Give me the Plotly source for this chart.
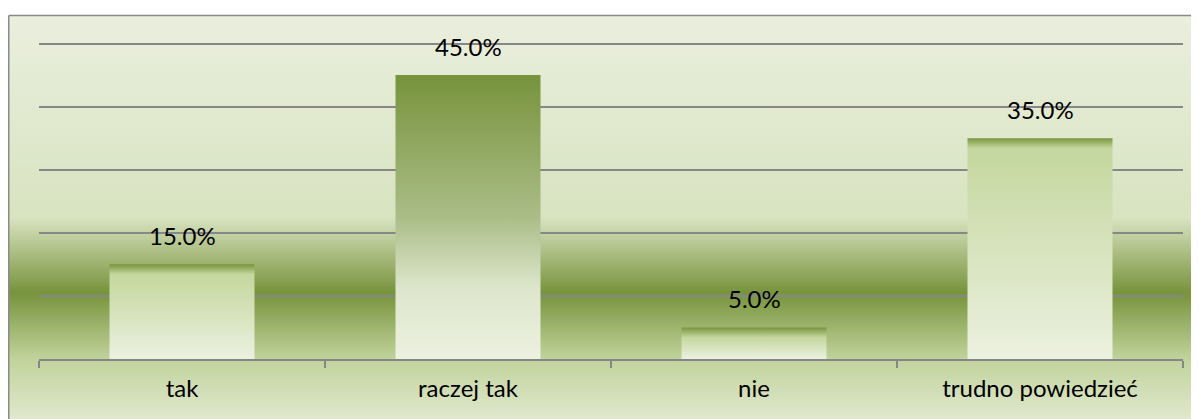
import plotly.graph_objects as go

categories = ["tak", "raczej tak", "nie", "trudno powiedzieć"]
values = [15.0, 45.0, 5.0, 35.0]
y_max = 50.4
grid_vals = [10, 20, 30, 40, 50]

# layout in pixels (figure coordinates; page body adds an 8px offset)
W, H = 1199, 419
PX_PER_UNIT = 6.31
PLOT_LEFT, PLOT_RIGHT, PLOT_BOTTOM = 31, 1175, 351
PH = PX_PER_UNIT * y_max
ML, MR, MB = PLOT_LEFT, W - PLOT_RIGHT, H - PLOT_BOTTOM
MT = H - MB - PH
PW = PLOT_RIGHT - PLOT_LEFT
BOX_LEFT, BOX_TOP = 0.75, 7.5
BAR_W = 0.507
FONT = "Lato"
FS = 24

bg_svg = (
    "data:image/svg+xml;utf8,"
    "<svg xmlns='http://www.w3.org/2000/svg' width='100' height='100' preserveAspectRatio='none'>"
    "<defs><linearGradient id='g' x1='0' y1='0' x2='0' y2='1'>"
    "<stop offset='0' stop-color='%23eaefde'/>"
    "<stop offset='0.48' stop-color='%23d8e3c0'/>"
    "<stop offset='0.658' stop-color='%2377933c'/>"
    "<stop offset='0.815' stop-color='%23c1d39c'/>"
    "<stop offset='0.957' stop-color='%23e0e8cd'/>"
    "<stop offset='1' stop-color='%23e4ebd3'/>"
    "</linearGradient></defs>"
    "<rect x='0' y='0' width='100' height='100' fill='url(%23g)'/>"
    "</svg>"
)

fig = go.Figure()

for i, (cat, v) in enumerate(zip(categories, values)):
    h = v * PX_PER_UNIT
    if v >= 40:
        cs = [[0, "#ecf1e0"], [0.25, "#dde6cc"], [0.5, "#aabd87"], [1, "#77933c"]]
    else:
        f = max(0.0, 1 - 10 / h)
        cs = [[0, "#ecf1e0"], [f, "#c4d79e"], [1, "#78943d"]]
    fig.add_trace(go.Scatter(
        x=[i - BAR_W / 2, i + BAR_W / 2, i + BAR_W / 2, i - BAR_W / 2, i - BAR_W / 2],
        y=[0, 0, v, v, 0],
        mode="none", fill="toself",
        fillgradient=dict(type="vertical", colorscale=cs),
        hoverinfo="skip", showlegend=False,
    ))
    fig.add_annotation(x=i, y=v, text=f"{v:.1f}%", showarrow=False,
                       yanchor="bottom", yshift=12,
                       font=dict(family=FONT, size=FS, color="#000000"))

x0p = (BOX_LEFT - ML) / PW
y1p = (H - MB - BOX_TOP) / PH
fig.add_layout_image(dict(
    source=bg_svg, xref="paper", yref="paper",
    x=x0p, y=y1p, sizex=(W + 10 - BOX_LEFT) / PW, sizey=(H + 10 - BOX_TOP) / PH,
    xanchor="left", yanchor="top", sizing="stretch", layer="below",
))
# chart border (top and left)
fig.add_shape(type="line", xref="paper", yref="paper", x0=x0p, x1=(W + 10 - ML) / PW,
              y0=y1p, y1=y1p, line=dict(color="#8a8a8a", width=1.5))
fig.add_shape(type="line", xref="paper", yref="paper", x0=x0p, x1=x0p,
              y0=y1p, y1=-(MB + 10) / PH, line=dict(color="#8a8a8a", width=1.5))

fig.update_layout(
    width=W, height=H,
    margin=dict(l=ML, r=MR, t=MT, b=MB, autoexpand=False),
    paper_bgcolor="white", plot_bgcolor="rgba(0,0,0,0)",
    font=dict(family=FONT, size=FS, color="#000000"),
    xaxis=dict(
        range=[-0.5, len(categories) - 0.5],
        tickvals=list(range(len(categories))), ticktext=categories,
        ticks="", showgrid=False, zeroline=False,
        showline=True, linecolor="#868686", linewidth=1.5,
        ticklabelstandoff=7,
        minor=dict(tick0=-0.5, dtick=1, ticks="outside", ticklen=7,
                   tickcolor="#868686", tickwidth=1.5, showgrid=False),
        fixedrange=True,
    ),
    yaxis=dict(
        range=[0, y_max], tickvals=grid_vals, showticklabels=False,
        showgrid=True, gridcolor="#878787", gridwidth=1.5,
        zeroline=False, showline=False, fixedrange=True,
    ),
)

fig.write_html("out.html")
